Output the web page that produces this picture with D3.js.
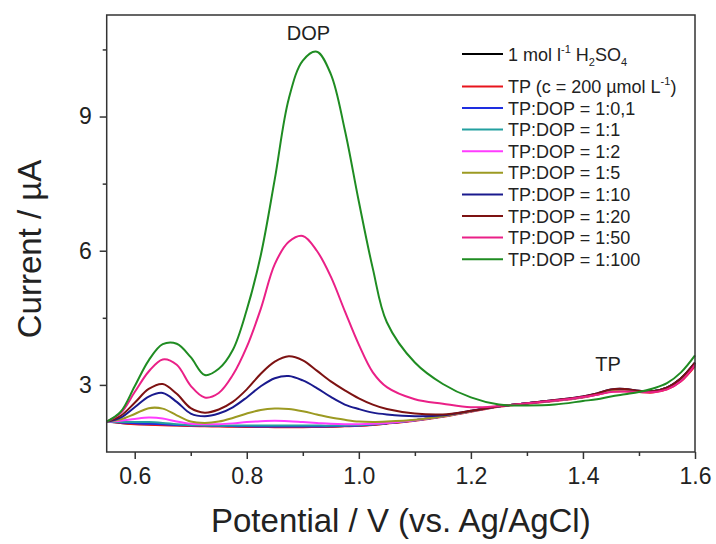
<!DOCTYPE html>
<html>
<head>
<meta charset="utf-8">
<script src="https://cdn.jsdelivr.net/npm/d3@7/dist/d3.min.js"></script>
<style>
  html, body { margin: 0; padding: 0; background: #fff; }
  svg { display: block; font-family: "Liberation Sans", Arial, sans-serif; }
</style>
</head>
<body>
<svg id="chart" width="716" height="544"></svg>
<script>
// Differential pulse voltammograms: potential (V vs. Ag/AgCl) against current (µA)
const potential = [0.55, 0.575, 0.6, 0.625, 0.65, 0.675, 0.7, 0.725, 0.75, 0.775, 0.8, 0.825,
  0.85, 0.875, 0.9, 0.925, 0.95, 0.975, 1.0, 1.025, 1.05, 1.1, 1.15, 1.2, 1.25, 1.3, 1.35,
  1.4, 1.425, 1.45, 1.475, 1.5, 1.525, 1.55, 1.575, 1.6];

const blank = [2.18, 2.15, 2.13, 2.12, 2.11, 2.10, 2.09, 2.085, 2.08, 2.075, 2.07, 2.065,
  2.06, 2.06, 2.06, 2.065, 2.07, 2.08, 2.09, 2.11, 2.14, 2.21, 2.30, 2.41, 2.52, 2.59, 2.65,
  2.73, 2.79, 2.88, 2.89, 2.86, 2.86, 2.94, 3.15, 3.50];
const tpOnly = [2.18, 2.15, 2.12, 2.11, 2.10, 2.09, 2.08, 2.075, 2.07, 2.065, 2.06, 2.06,
  2.055, 2.055, 2.055, 2.06, 2.065, 2.075, 2.085, 2.105, 2.135, 2.20, 2.29, 2.40, 2.51, 2.58, 2.64,
  2.72, 2.78, 2.85, 2.86, 2.84, 2.83, 2.90, 3.08, 3.42];
const ratio1to01 = [2.18, 2.16, 2.14, 2.13, 2.12, 2.105, 2.095, 2.09, 2.085, 2.08, 2.075, 2.07,
  2.07, 2.07, 2.07, 2.07, 2.075, 2.085, 2.095, 2.115, 2.145, 2.21, 2.30, 2.41, 2.52, 2.59, 2.65,
  2.73, 2.80, 2.88, 2.89, 2.86, 2.86, 2.94, 3.14, 3.48];
const ratio1to1 = [2.18, 2.17, 2.17, 2.17, 2.15, 2.12, 2.10, 2.095, 2.09, 2.09, 2.09, 2.09,
  2.09, 2.09, 2.09, 2.09, 2.09, 2.095, 2.10, 2.12, 2.15, 2.21, 2.30, 2.41, 2.52, 2.59, 2.65,
  2.73, 2.79, 2.87, 2.88, 2.86, 2.86, 2.93, 3.13, 3.47];
const ratio1to2 = [2.18, 2.20, 2.24, 2.27, 2.25, 2.18, 2.13, 2.12, 2.12, 2.14, 2.17, 2.19,
  2.20, 2.19, 2.17, 2.15, 2.13, 2.12, 2.12, 2.13, 2.15, 2.21, 2.30, 2.41, 2.52, 2.59, 2.65,
  2.73, 2.79, 2.86, 2.87, 2.85, 2.85, 2.92, 3.12, 3.46];
const ratio1to5 = [2.18, 2.23, 2.35, 2.48, 2.47, 2.32, 2.18, 2.15, 2.18, 2.26, 2.36, 2.44,
  2.47, 2.46, 2.41, 2.34, 2.27, 2.22, 2.18, 2.17, 2.18, 2.22, 2.30, 2.41, 2.52, 2.59, 2.65,
  2.73, 2.80, 2.88, 2.89, 2.86, 2.86, 2.94, 3.14, 3.48];
const ratio1to10 = [2.18, 2.27, 2.50, 2.74, 2.82, 2.62, 2.36, 2.30, 2.36, 2.50, 2.72, 2.97,
  3.15, 3.20, 3.10, 2.93, 2.73, 2.56, 2.46, 2.38, 2.34, 2.30, 2.32, 2.42, 2.52, 2.59, 2.66,
  2.74, 2.81, 2.90, 2.91, 2.87, 2.86, 2.94, 3.15, 3.50];
const ratio1to20 = [2.18, 2.31, 2.60, 2.91, 3.02, 2.80, 2.48, 2.38, 2.45, 2.62, 2.90, 3.25,
  3.52, 3.64, 3.55, 3.32, 3.08, 2.88, 2.70, 2.56, 2.46, 2.36, 2.34, 2.42, 2.52, 2.59, 2.66,
  2.74, 2.81, 2.90, 2.91, 2.87, 2.86, 2.94, 3.15, 3.50];
const ratio1to50 = [2.18, 2.37, 2.84, 3.30, 3.57, 3.45, 2.98, 2.72, 2.82, 3.22, 3.85, 4.70,
  5.70, 6.20, 6.33, 6.00, 5.42, 4.65, 3.90, 3.28, 2.95, 2.68, 2.58, 2.50, 2.53, 2.59, 2.65,
  2.73, 2.78, 2.84, 2.85, 2.84, 2.84, 2.90, 3.08, 3.45];
const ratio1to100 = [2.18, 2.40, 2.97, 3.55, 3.91, 3.92, 3.62, 3.22, 3.36, 3.78, 4.68, 5.90,
  7.60, 9.40, 10.25, 10.45, 9.95, 8.70, 7.10, 5.60, 4.40, 3.50, 3.02, 2.72, 2.56, 2.54, 2.56,
  2.64, 2.68, 2.74, 2.79, 2.84, 2.92, 3.04, 3.28, 3.66];

const seriesNames = ["blank", "TP", "1:0,1", "1:1", "1:2", "1:5", "1:10", "1:20", "1:50", "1:100"];
const seriesValues = [blank, tpOnly, ratio1to01, ratio1to1, ratio1to2, ratio1to5,
  ratio1to10, ratio1to20, ratio1to50, ratio1to100];
const seriesColors = ["#000000", "#e8141c", "#1e2ee0", "#23a0a0", "#ff3cff",
  "#9c9a22", "#1a1a8e", "#7d1212", "#ea2087", "#1f8c22"];

const xMajorTicks = [0.6, 0.8, 1.0, 1.2, 1.4, 1.6];
const xMinorTicks = [0.7, 0.9, 1.1, 1.3, 1.5];
const yMajorTicks = [3, 6, 9];
const yMinorTicks = [4.5, 7.5, 10.5];

const svg = d3.select("#chart");
const W = 716, H = 544;
const m = { left: 106.7, right: 695, top: 15, bottom: 452 };
const frameColor = "#333";

svg.append("rect").attr("width", W).attr("height", H).attr("fill", "#fff");

const x = d3.scaleLinear().domain([0.55, 1.6]).range([m.left, m.right]);
const y = d3.scaleLinear().domain([1.5, 11.27]).range([m.bottom, m.top]);

// curves
const line = d3.line()
  .x((d, i) => x(potential[i]))
  .y(d => y(d))
  .curve(d3.curveCatmullRom.alpha(0.5));

const plot = svg.append("g");
seriesValues.forEach((vals, k) => {
  plot.append("path")
    .attr("d", line(vals))
    .attr("fill", "none")
    .attr("stroke", seriesColors[k])
    .attr("stroke-width", 2)
    .attr("stroke-linejoin", "round");
});

// axes
function styleAxis(g) {
  g.select(".domain").remove();
  g.selectAll(".tick line").attr("stroke", frameColor).attr("stroke-width", 1.5);
  g.selectAll(".tick text").attr("fill", "#222").attr("font-size", 23)
    .attr("font-family", "'Liberation Sans', Arial, sans-serif");
}

svg.append("g").attr("transform", `translate(0,${m.bottom})`)
  .call(d3.axisBottom(x).tickValues(xMajorTicks).tickFormat(d3.format(".1f"))
    .tickSize(7).tickPadding(9))
  .call(styleAxis);
svg.append("g").attr("transform", `translate(0,${m.bottom})`)
  .call(d3.axisBottom(x).tickValues(xMinorTicks).tickFormat("").tickSize(4))
  .call(styleAxis);
svg.append("g").attr("transform", `translate(${m.left},0)`)
  .call(d3.axisLeft(y).tickValues(yMajorTicks).tickFormat(d3.format("d"))
    .tickSize(7).tickPadding(8))
  .call(styleAxis);
svg.append("g").attr("transform", `translate(${m.left},0)`)
  .call(d3.axisLeft(y).tickValues(yMinorTicks).tickFormat("").tickSize(4))
  .call(styleAxis);

// frame
svg.append("rect")
  .attr("x", m.left).attr("y", m.top)
  .attr("width", m.right - m.left).attr("height", m.bottom - m.top)
  .attr("fill", "none").attr("stroke", frameColor).attr("stroke-width", 1.5);

// axis titles
svg.append("text")
  .attr("x", (m.left + m.right) / 2).attr("y", 532)
  .attr("text-anchor", "middle").attr("font-size", 33).attr("fill", "#222")
  .text("Potential / V (vs. Ag/AgCl)");
svg.append("text")
  .attr("transform", "translate(41,249) rotate(-90)")
  .attr("text-anchor", "middle").attr("font-size", 33).attr("fill", "#222")
  .text("Current / \u00b5A");

// peak annotations
svg.append("text").attr("x", x(0.91)).attr("y", 40)
  .attr("text-anchor", "middle").attr("font-size", 20).attr("fill", "#222").text("DOP");
svg.append("text").attr("x", x(1.445)).attr("y", 371)
  .attr("text-anchor", "middle").attr("font-size", 20).attr("fill", "#222").text("TP");

// legend
const legendRows = [54, 86.5, 108, 129.6, 151.2, 172.8, 194.4, 216, 237.6, 259.2];
const lg = svg.append("g").attr("font-size", 18).attr("fill", "#222");
seriesNames.forEach((name, k) => {
  const ly = legendRows[k];
  lg.append("line").attr("x1", 462).attr("x2", 503).attr("y1", ly).attr("y2", ly)
    .attr("stroke", seriesColors[k]).attr("stroke-width", 2);
  const t = lg.append("text").attr("x", 508).attr("y", ly + 6.5);
  if (k === 0) {
    t.append("tspan").text("1 mol l");
    t.append("tspan").attr("font-size", 11).attr("dy", -8).text("-1");
    t.append("tspan").attr("dy", 8).text(" H");
    t.append("tspan").attr("font-size", 11).attr("dy", 5).text("2");
    t.append("tspan").attr("dy", -5).text("SO");
    t.append("tspan").attr("font-size", 11).attr("dy", 5).text("4");
  } else if (k === 1) {
    t.append("tspan").text("TP (c = 200 \u00b5mol L");
    t.append("tspan").attr("font-size", 11).attr("dy", -8).text("-1");
    t.append("tspan").attr("dy", 8).text(")");
  } else {
    t.text("TP:DOP = " + name);
  }
});
</script>
</body>
</html>
